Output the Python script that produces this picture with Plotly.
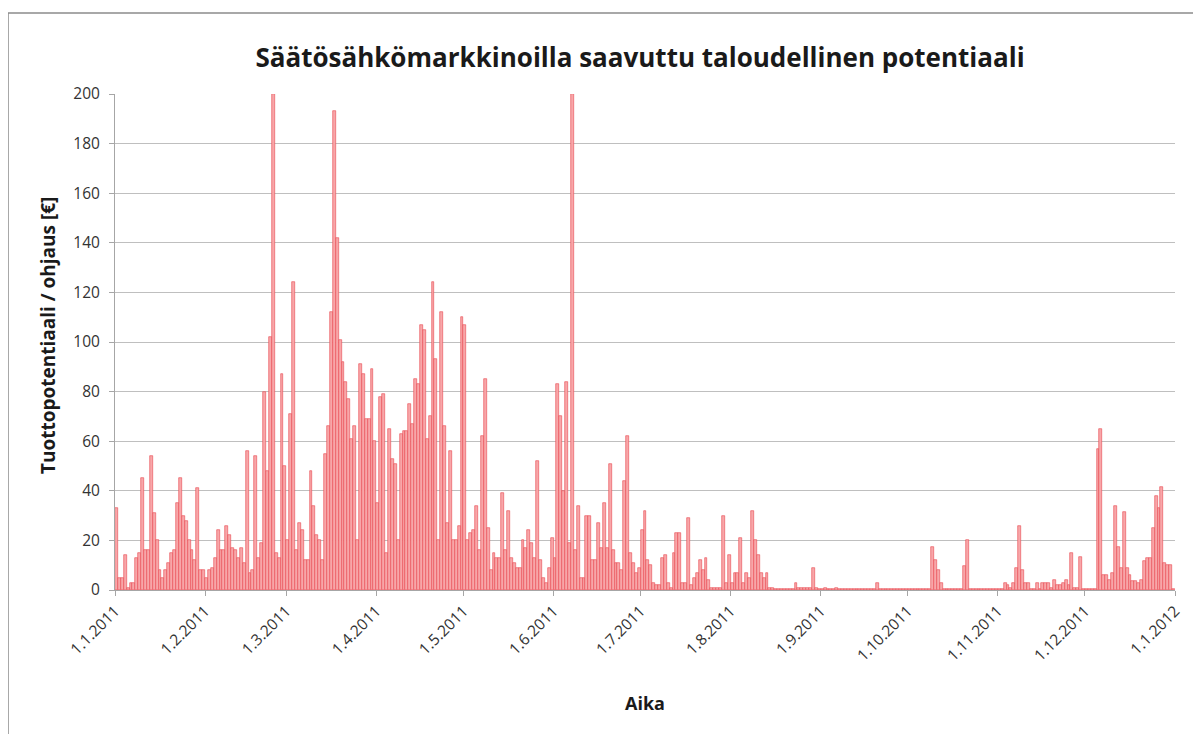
import pandas as pd
import plotly.graph_objects as go

# Daily values (EUR per control action), one list per month of 2011
jan = [33, 5, 5, 14, 1, 3, 3, 13, 15, 45, 16, 16, 54, 31, 20, 8, 5, 8, 11, 15,
       16, 35, 45, 30, 28, 20, 16, 12, 41, 8, 8]
feb = [5, 8, 9, 13, 24, 16, 16, 26, 22, 17, 16, 13, 17, 11, 56, 7, 8, 54, 13, 19,
       80, 48, 102, 200, 15, 13, 87, 50]
mar = [20, 71, 124, 16, 27, 24, 12, 12, 48, 34, 22, 20, 12, 55, 66, 112, 193, 142,
       101, 92, 84, 77, 61, 66, 20, 91, 87, 69, 69, 89, 60]
apr = [35, 78, 79, 15, 65, 53, 51, 20, 63, 64, 64, 75, 67, 85, 83, 107, 105, 61,
       70, 124, 93, 20, 112, 66, 27, 56, 20, 20, 26, 110]
may = [107, 20, 23, 24, 34, 16, 62, 85, 25, 8, 15, 13, 13, 39, 16, 32, 13, 11, 9,
       9, 20, 17, 24, 19, 13, 52, 12, 5, 3, 9, 21]
jun = [13, 83, 70, 40, 84, 19, 200, 16, 34, 5, 5, 30, 30, 12, 12, 27, 17, 35, 17,
       51, 16, 11, 11, 8, 44, 62, 15, 11, 7, 9]
jul = [24, 32, 12, 10, 3, 2, 2, 13, 14, 3, 1, 15, 23, 23, 3, 3, 29, 2, 5, 7, 12,
       8, 13, 4, 1, 1, 1, 1, 30, 3, 14]
aug = [3, 7, 7, 21, 3, 7, 5, 32, 20, 14, 7, 5, 7, 1, 1, 0.5, 0.5, 0.5, 0.5, 0.5,
       0.5, 0.5, 3, 1, 1, 1, 1, 1, 9, 1, 0.5]
sep = [0.5, 1, 0.5, 0.3, 0.5, 1, 0.3, 0.3, 0.5, 0.3, 0.3, 0.3, 0.5, 0.3, 0.3, 0.3,
       0.3, 0.3, 0.5, 3, 0.5, 0.3, 0.3, 0.3, 0.3, 0.3, 0.3, 0.3, 0.3, 0.3]
oct_ = [0.3, 0.3, 0.3, 0.3, 0.3, 0.3, 0.3, 0.3, 17.5, 12, 8, 3, 0.3, 0.3, 0.3, 0.3,
        0.3, 0.3, 0.3, 9.5, 20, 0.3, 0.3, 0.3, 0.3, 0.3, 0.3, 0.3, 0.3, 0.3, 0.5]
nov = [0.5, 0.5, 3, 2, 1, 3, 9, 26, 8, 3, 3, 0.5, 0.5, 3, 0.5, 3, 3, 3, 1, 4, 2, 2,
       3, 4, 2, 15, 1, 1, 13.5, 0.5]
dec = [0.5, 0.5, 0.5, 0.5, 57, 65, 6, 6, 4, 7, 34, 17.5, 9, 31.5, 9, 6, 3.5, 3.5,
       3, 4, 11.5, 13, 13, 25, 38, 33, 41.7, 11, 10, 10, 0.5]

tick_dates = ["2011-01-01", "2011-02-01", "2011-03-01", "2011-04-01", "2011-05-01",
              "2011-06-01", "2011-07-01", "2011-08-01", "2011-09-01", "2011-10-01",
              "2011-11-01", "2011-12-01", "2012-01-01"]
tick_labels = ["1.1.2011", "1.2.2011", "1.3.2011", "1.4.2011", "1.5.2011", "1.6.2011",
               "1.7.2011", "1.8.2011", "1.9.2011", "1.10.2011", "1.11.2011",
               "1.12.2011", "1.1.2012"]

values = jan + feb + mar + apr + may + jun + jul + aug + sep + oct_ + nov + dec
days = pd.date_range("2011-01-01", periods=len(values), freq="D")
x_mid = days + pd.Timedelta(hours=12)

FONT = "Open Sans"
# page body has an 8px margin: plot area placed at screen x 115..1175, y 94..590
OFF = 8
fig = go.Figure()
fig.add_bar(
    x=x_mid, y=values, width=86400000,
    marker=dict(color="#F8A6A9", line=dict(color="#E8464F", width=0.6)),
)

fig.update_layout(
    width=1201, height=734,
    margin=dict(l=115 - OFF, r=1201 - 1175 + OFF, t=94 - OFF, b=734 - 590 + OFF),
    paper_bgcolor="white", plot_bgcolor="white",
    bargap=0, showlegend=False,
    font=dict(family=FONT, color="#333333", size=15),
    title=dict(text="<b>Säätösähkömarkkinoilla saavuttu taloudellinen potentiaali</b>",
               x=(640 - OFF) / 1201, xanchor="center", y=1 - (58 - OFF) / 734,
               yanchor="middle",
               font=dict(family=FONT, size=26, color="#1a1a1a")),
    xaxis=dict(type="date", range=["2011-01-01", "2012-01-01"],
               tickvals=tick_dates, ticktext=tick_labels, tickangle=-45,
               ticks="outside", ticklen=5, tickcolor="#A6A6A6",
               showline=True, linecolor="#A6A6A6", linewidth=1,
               showgrid=False, zeroline=False,
               tickfont=dict(family=FONT, size=15.5, color="#333333")),
    yaxis=dict(range=[0, 200], dtick=20, tick0=0,
               ticks="outside", ticklen=5, tickcolor="#A6A6A6",
               ticklabelstandoff=6,
               showline=True, linecolor="#A6A6A6", linewidth=1,
               showgrid=True, gridcolor="#BFBFBF", gridwidth=1,
               zeroline=False,
               tickfont=dict(family=FONT, size=15.5, color="#333333")),
    annotations=[
        dict(text="<b>Tuottopotentiaali / ohjaus [€]</b>", xref="paper", yref="paper",
             x=(48 - 115) / 1060, y=(590 - 336) / 496, textangle=-90, showarrow=False,
             xanchor="center", yanchor="middle",
             font=dict(family=FONT, size=19, color="#1a1a1a")),
        dict(text="<b>Aika</b>", xref="paper", yref="paper",
             x=(645 - 115) / 1060, y=(590 - 703) / 496, showarrow=False,
             xanchor="center", yanchor="middle",
             font=dict(family=FONT, size=18, color="#1a1a1a")),
    ],
    shapes=[
        dict(type="rect", xref="paper", yref="paper",
             x0=(8 - 115) / 1060, x1=(1215 - 115) / 1060,
             y0=(590 - 750) / 496, y1=(590 - 13) / 496,
             line=dict(color="#8C8C8C", width=1.5), fillcolor="rgba(0,0,0,0)",
             layer="below"),
    ],
)

fig.write_html("out.html")
